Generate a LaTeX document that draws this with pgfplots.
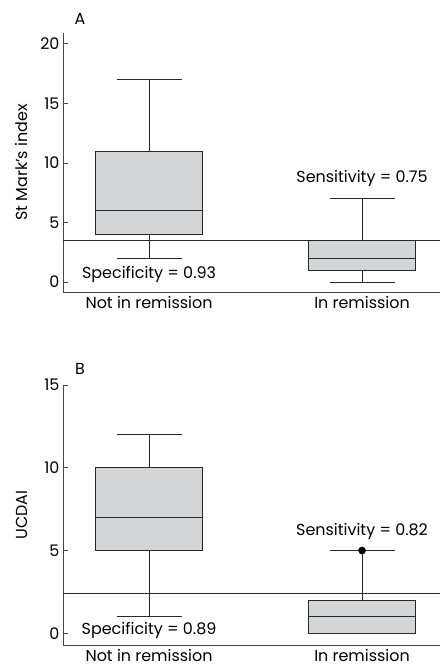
\documentclass[border=0pt]{standalone}
\usepackage{fontspec}
\setmainfont{Poppins}
\usepackage{pgfplots}
\pgfplotsset{compat=1.18}
\usepgfplotslibrary{statistics}
\definecolor{boxgray}{RGB}{212,213,215}
\definecolor{linegray}{RGB}{40,40,40}
\definecolor{axisgray}{RGB}{70,70,70}
\pgfplotsset{
  panel/.style={
    scale only axis,
    width=377bp,
    axis x line=bottom,
    axis y line=left,
    axis line style={axisgray, line width=0.9pt, -},
    xmin=0.596, xmax=2.366,
    xtick={1,2},
    xticklabels={Not in remission, In remission},
    x tick style={draw=none},
    y tick style={axisgray, line width=0.7pt},
    major tick length=5bp,
    tick align=inside,
    xticklabel style={yshift=-1bp},
    font=\fontsize{16}{18}\selectfont,
    ticklabel style={font=\fontsize{16}{18}\selectfont},
    /pgf/number format/assume math mode=true,
    ylabel style={at={(axis description cs:-0.109,0.5)}, anchor=center, rotate=0, font=\fontsize{16}{18}\selectfont},
    boxplot/draw direction=y,
    boxplot/box extend=0.5,
    boxplot/whisker extend=0.305,
    clip=false,
  },
  bx/.style={draw=linegray, fill=boxgray, line width=0.8pt, solid},
}
\begin{document}
\begin{tikzpicture}
\useasboundingbox (0bp,0bp) rectangle (440bp,671bp);
% Panel A
\begin{axis}[panel, at={(63bp,379bp)}, anchor=south west, height=259bp,
  ymin=-0.84, ymax=20.9, ytick={0,5,10,15,20},
  ylabel={St Mark's index}]
\addplot+[bx, mark=none, boxplot prepared={draw position=1,
  lower whisker=2, lower quartile=4, median=6, upper quartile=11, upper whisker=17}]
  coordinates {};
\addplot+[bx, mark=none, boxplot prepared={draw position=2,
  lower whisker=0, lower quartile=1, median=2, upper quartile=3.5, upper whisker=7}]
  coordinates {};
\addplot[linegray, line width=0.9pt] coordinates {(0.596,3.5) (2.366,3.5)};
\node[anchor=center] at (axis cs:2,8.65) {Sensitivity = 0.75};
\node[anchor=center] at (axis cs:1,0.67) {Specificity = 0.93};
\node[anchor=center] at (axis description cs:0.045,1.054) {A};
\end{axis}
% Panel B
\begin{axis}[panel, at={(63bp,26bp)}, anchor=south west, height=260bp,
  ymin=-0.71, ymax=15, ytick={0,5,10,15},
  ylabel={UCDAI}]
\addplot+[bx, mark=none, boxplot prepared={draw position=1,
  lower whisker=1, lower quartile=5, median=7, upper quartile=10, upper whisker=12}]
  coordinates {};
\addplot+[bx, mark=none, boxplot prepared={draw position=2,
  lower whisker=0, lower quartile=0, median=1, upper quartile=2, upper whisker=5}]
  coordinates {};
\addplot[only marks, mark=*, mark size=3.6bp, mark options={fill=black, draw=black}] coordinates {(2,5)};
\addplot[linegray, line width=0.9pt] coordinates {(0.596,2.4) (2.366,2.4)};
\node[anchor=center] at (axis cs:2,6.14) {Sensitivity = 0.82};
\node[anchor=center] at (axis cs:1,0.18) {Specificity = 0.89};
\node[anchor=center] at (axis description cs:0.045,1.062) {B};
\end{axis}
\end{tikzpicture}
\end{document}
